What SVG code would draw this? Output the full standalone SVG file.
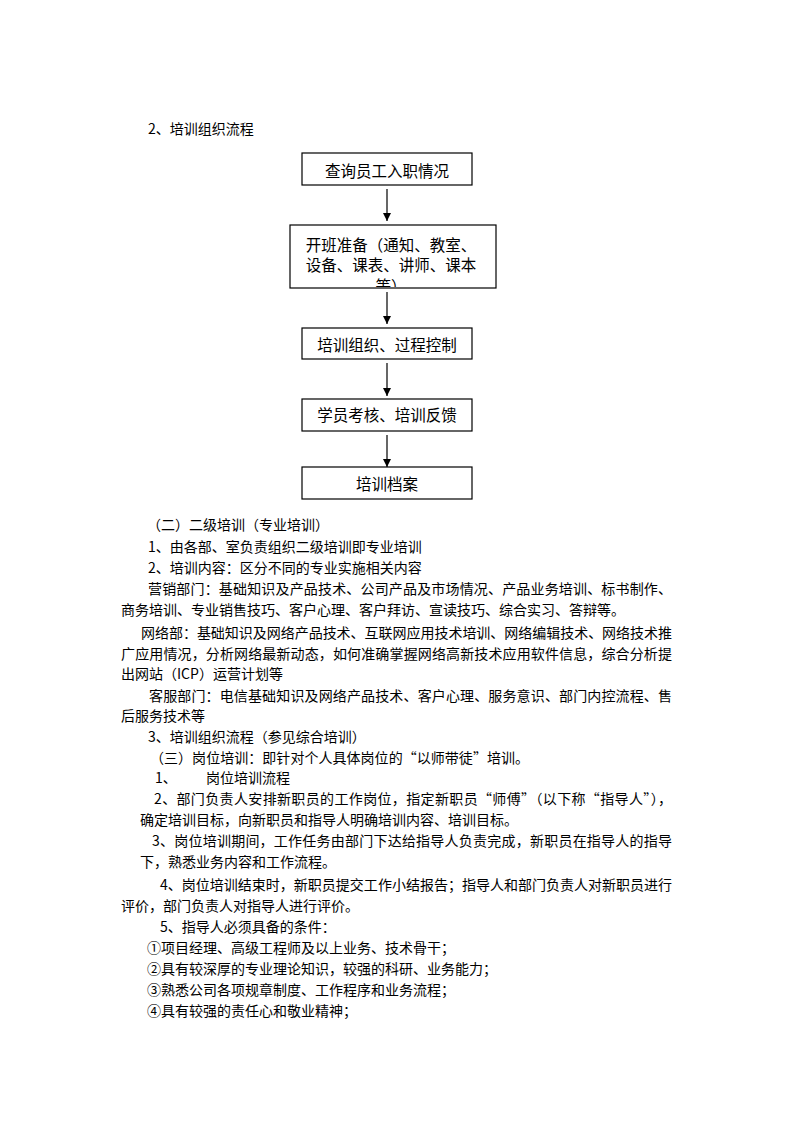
<svg xmlns="http://www.w3.org/2000/svg" width="800" height="1132" viewBox="0 0 800 1132">
<style>
.bg{fill:#fff}
.box{fill:#fff;stroke:#000;stroke-width:1.2}
.bt{font-family:"Noto Sans CJK SC","Noto Sans CJK JP",sans-serif;font-size:15.5px;fill:#000;text-anchor:middle}
.t{font-family:"Noto Sans CJK SC","Noto Sans CJK JP",sans-serif;font-size:14px;fill:#000}
.c{stroke:#000;stroke-width:1.2;fill:none}
</style>
<defs>
<marker id="ah" viewBox="0 0 10 10" refX="10" refY="5" markerWidth="8" markerHeight="8" markerUnits="userSpaceOnUse" orient="auto">
<path d="M0,0 L10,5 L0,10 z" fill="#000"/>
</marker>
<clipPath id="clip2"><rect x="291" y="226" width="204" height="61"/></clipPath>
</defs>
<rect class="bg" x="0" y="0" width="800" height="1132"/>
<text class="t" x="148" y="134">2、培训组织流程</text>

<g id="connectors">
<line class="c" x1="387" y1="189" x2="387" y2="221" marker-end="url(#ah)"/>
<line class="c" x1="387" y1="292" x2="387" y2="324" marker-end="url(#ah)"/>
<line class="c" x1="387" y1="363" x2="387" y2="396" marker-end="url(#ah)"/>
<line class="c" x1="387" y1="435" x2="387" y2="467" marker-end="url(#ah)"/>
</g>

<g id="n1">
<rect class="box" x="302" y="153" width="170" height="32"/>
<text class="bt" x="387" y="177">查询员工入职情况</text>
</g>
<g id="n2">
<rect class="box" x="290" y="225" width="206" height="63"/>
<g clip-path="url(#clip2)">
<text class="bt" x="391" y="251">开班准备（通知、教室、</text>
<text class="bt" x="391" y="271">设备、课表、讲师、课本</text>
<text class="bt" x="391" y="292">等）</text>
</g>
</g>
<g id="n3">
<rect class="box" x="302" y="328" width="170" height="31"/>
<text class="bt" x="387" y="351">培训组织、过程控制</text>
</g>
<g id="n4">
<rect class="box" x="302" y="399" width="170" height="32"/>
<text class="bt" x="387" y="421">学员考核、培训反馈</text>
</g>
<g id="n5">
<rect class="box" x="302" y="467" width="170" height="32"/>
<text class="bt" x="387" y="490">培训档案</text>
</g>

<g id="body">
<text class="t" x="147" y="530">（二）二级培训（专业培训）</text>
<text class="t" x="148" y="552">1、由各部、室负责组织二级培训即专业培训</text>
<text class="t" x="148" y="573">2、培训内容：区分不同的专业实施相关内容</text>
<text class="t" x="148" y="594" textLength="524" lengthAdjust="spacing">营销部门：基础知识及产品技术、公司产品及市场情况、产品业务培训、标书制作、</text>
<text class="t" x="121" y="615">商务培训、专业销售技巧、客户心理、客户拜访、宣读技巧、综合实习、答辩等。</text>
<text class="t" x="141" y="638" textLength="531" lengthAdjust="spacing">网络部：基础知识及网络产品技术、互联网应用技术培训、网络编辑技术、网络技术推</text>
<text class="t" x="121" y="659" textLength="551" lengthAdjust="spacing">广应用情况，分析网络最新动态，如何准确掌握网络高新技术应用软件信息，综合分析提</text>
<text class="t" x="121" y="679">出网站（ICP）运营计划等</text>
<text class="t" x="149" y="701" textLength="523" lengthAdjust="spacing">客服部门：电信基础知识及网络产品技术、客户心理、服务意识、部门内控流程、售</text>
<text class="t" x="121" y="721">后服务技术等</text>
<text class="t" x="148" y="742">3、培训组织流程（参见综合培训）</text>
<text class="t" x="150" y="763" textLength="379" lengthAdjust="spacing">（三）岗位培训：即针对个人具体岗位的“以师带徒”培训。</text>
<text class="t" x="155" y="783">1、</text>
<text class="t" x="206" y="783">岗位培训流程</text>
<text class="t" x="154" y="804" textLength="518" lengthAdjust="spacing">2、部门负责人安排新职员的工作岗位，指定新职员“师傅”（以下称“指导人”），</text>
<text class="t" x="140" y="825">确定培训目标，向新职员和指导人明确培训内容、培训目标。</text>
<text class="t" x="152" y="846" textLength="520" lengthAdjust="spacing">3、岗位培训期间，工作任务由部门下达给指导人负责完成，新职员在指导人的指导</text>
<text class="t" x="140" y="867">下，熟悉业务内容和工作流程。</text>
<text class="t" x="160" y="890" textLength="512" lengthAdjust="spacing">4、岗位培训结束时，新职员提交工作小结报告；指导人和部门负责人对新职员进行</text>
<text class="t" x="121" y="911">评价，部门负责人对指导人进行评价。</text>
<text class="t" x="160" y="932">5、指导人必须具备的条件：</text>
<text class="t" x="147" y="953">①项目经理、高级工程师及以上业务、技术骨干；</text>
<text class="t" x="147" y="974">②具有较深厚的专业理论知识，较强的科研、业务能力；</text>
<text class="t" x="147" y="995">③熟悉公司各项规章制度、工作程序和业务流程；</text>
<text class="t" x="147" y="1016">④具有较强的责任心和敬业精神；</text>
</g>
</svg>
